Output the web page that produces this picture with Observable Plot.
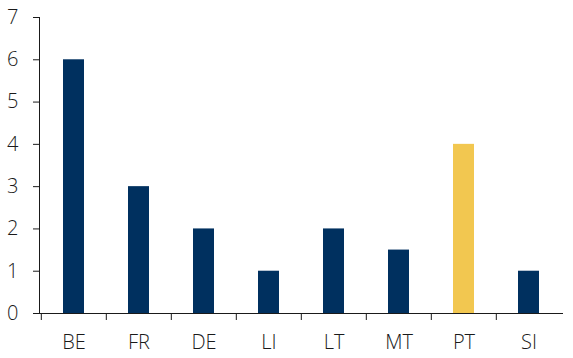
<!DOCTYPE html>
<html><head><meta charset="utf-8">
<script src="https://cdn.jsdelivr.net/npm/d3@7"></script>
<script src="https://cdn.jsdelivr.net/npm/@observablehq/plot@0.6"></script>
<style>
body{margin:0;background:#fff;}
svg text{font-weight:300;}
</style>
</head><body>
<div id="chart"></div>
<script>
const categories = ["BE","FR","DE","LI","LT","MT","PT","SI"];
const values = [6,3,2,1,2,1.5,4,1];
const highlight = ["PT"];
const yTicks = [0,1,2,3,4,5,6,7];

const data = categories.map((c,i)=>({cat:c, value:values[i], hl: highlight.includes(c)}));
const width = 573, mL = 39, mR = 11;
const bw = (width - mL - mR) / categories.length;

const plot = Plot.plot({
  width, height: 358,
  marginLeft: mL, marginRight: mR, marginTop: 17, marginBottom: 45,
  style: {fontFamily: "'Open Sans', sans-serif", fontSize: "20px", color: "#1a1a1a", background: "#fff"},
  x: {domain: categories, paddingInner: 0.68, paddingOuter: 0.34, label: null, tickSize: 0, tickPadding: 21, line: true},
  y: {domain: [0,7], ticks: yTicks, label: null, tickSize: 6, tickPadding: 15, line: true, tickFormat: d3.format("d")},
  marks: [
    Plot.barY(data, {x: "cat", y: "value", fill: d => d.hl ? "#F2C750" : "#00305F"}),
    Plot.ruleX(categories, {x: d => d, y1: 0, y2: 0, dx: -bw/2, insetBottom: -7, stroke: "#1a1a1a"})
  ]
});
document.getElementById("chart").appendChild(plot);
</script>
</body></html>
